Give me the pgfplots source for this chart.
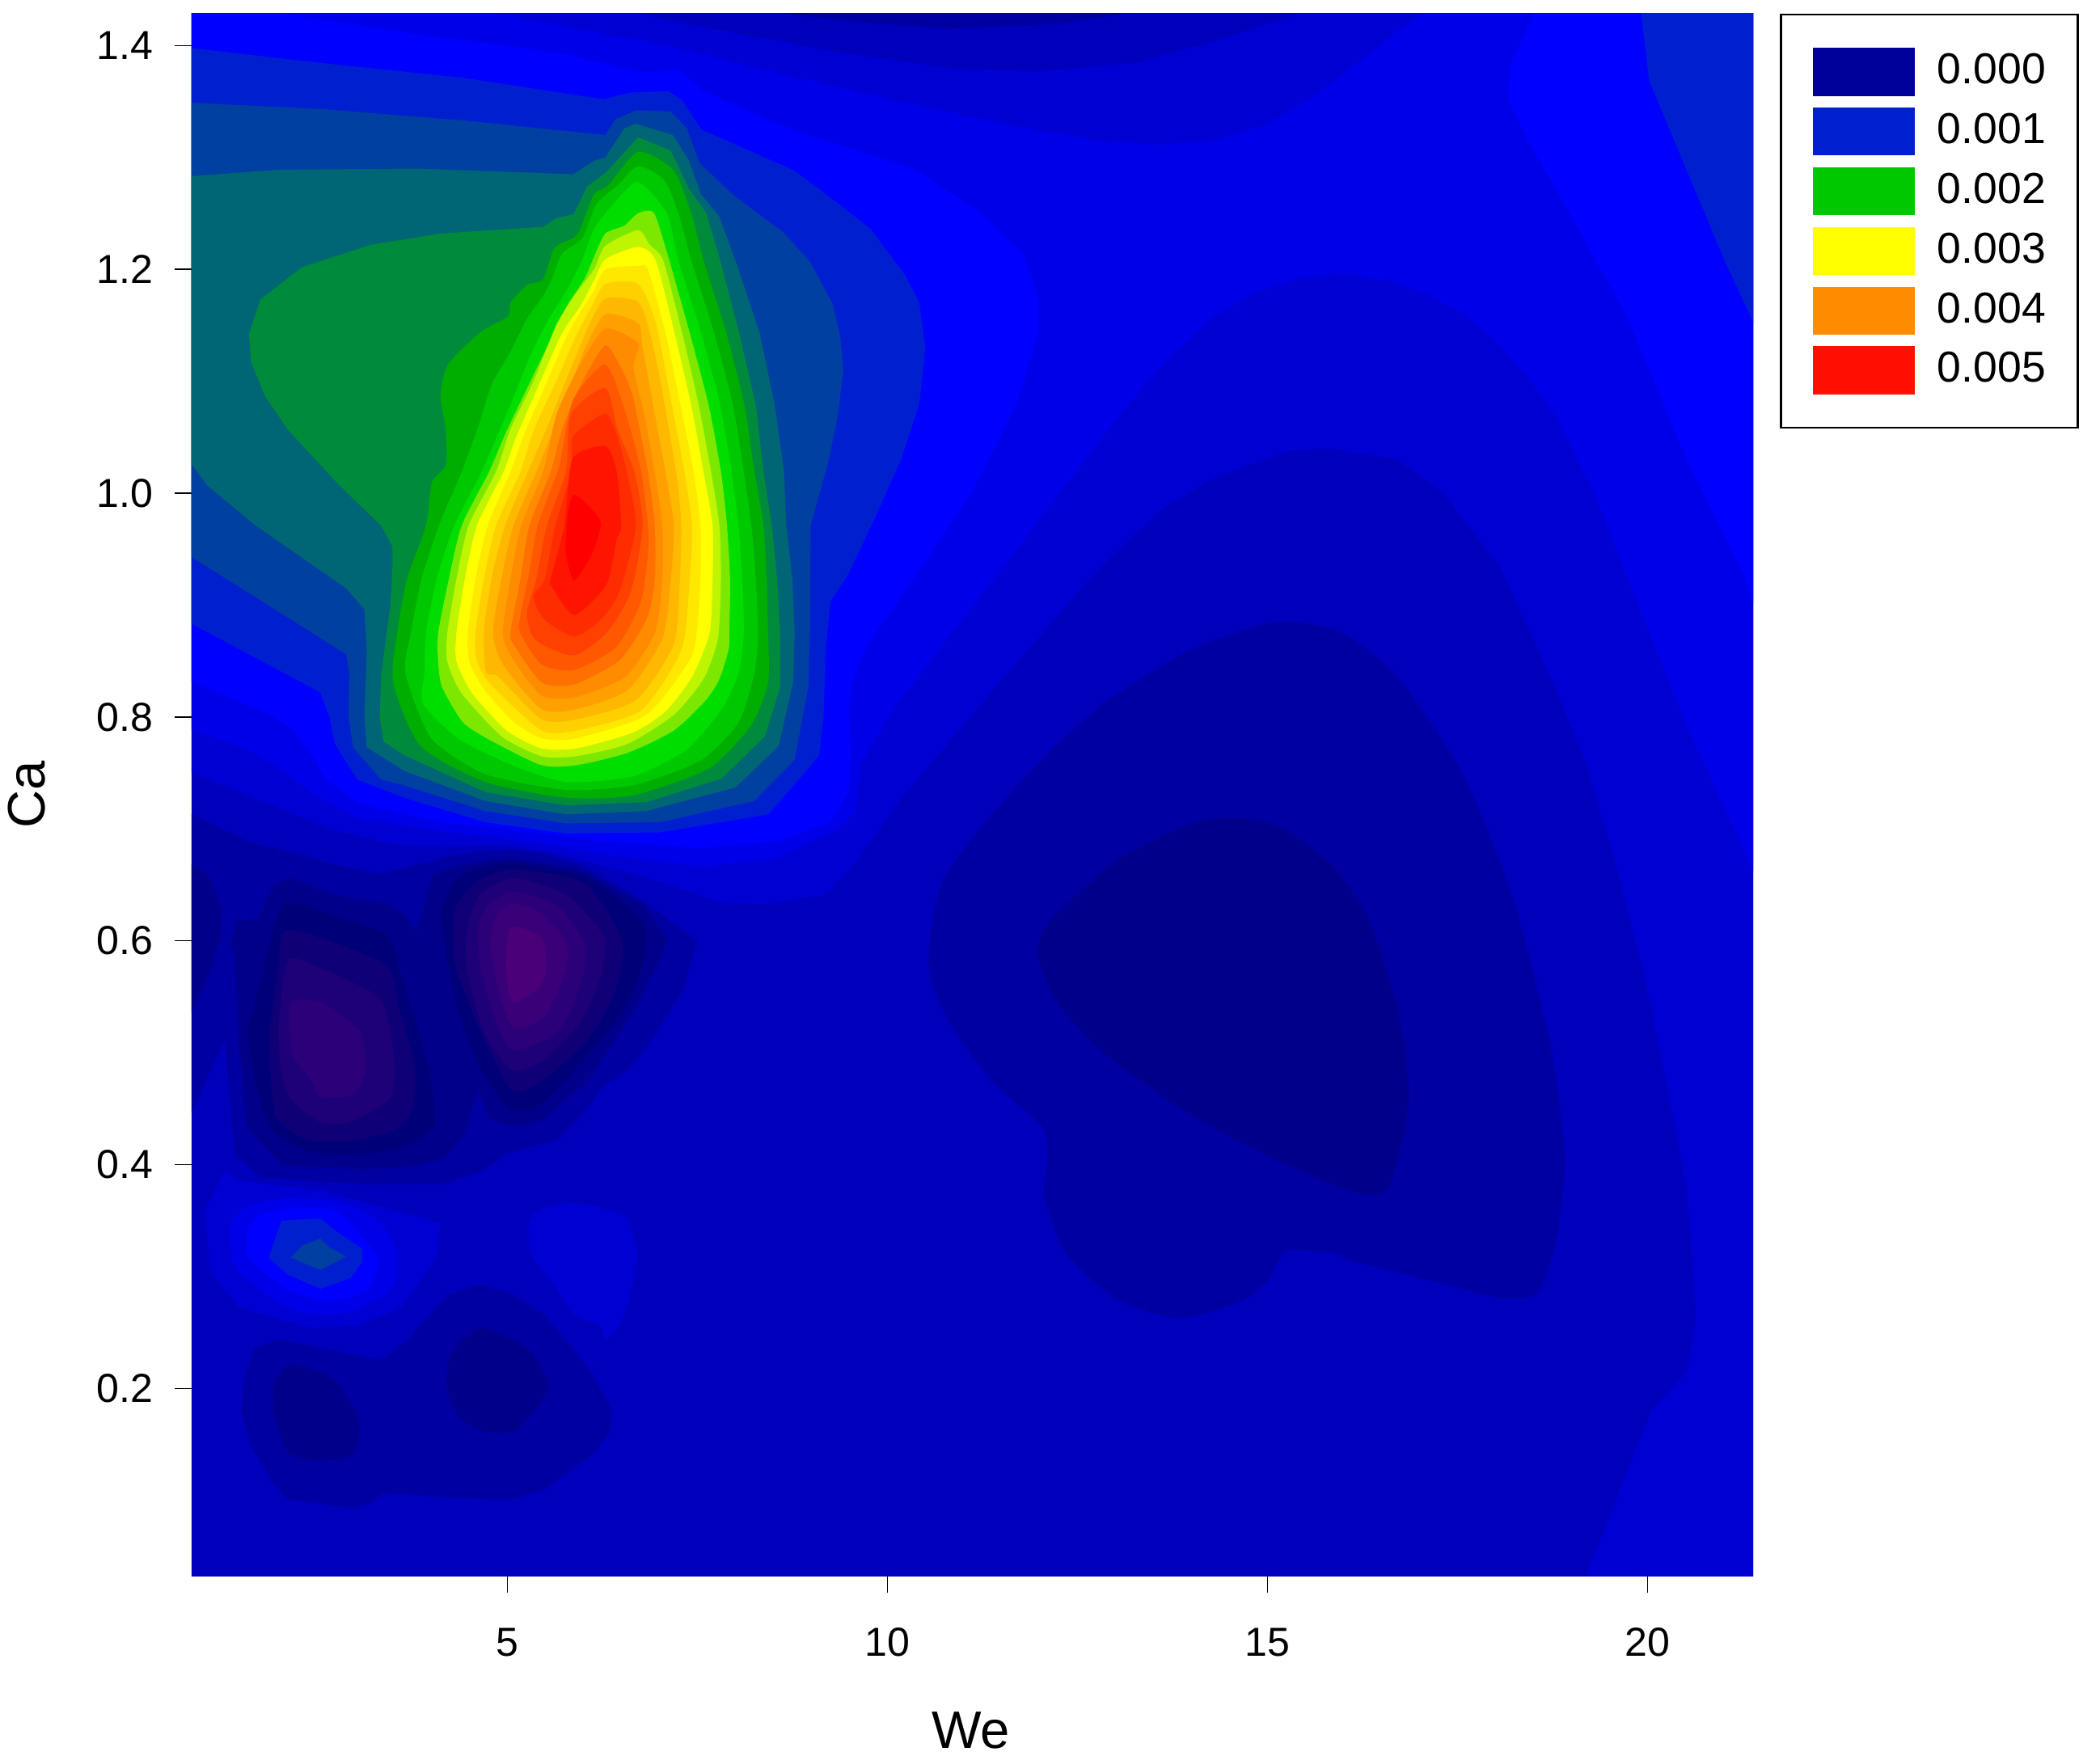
\documentclass[border=0pt]{standalone}
\usepackage{fontspec}
\setmainfont{Liberation Sans}
\usepackage{pgfplots}
\pgfplotsset{compat=1.18}
% band colours, low to high
\definecolor{c00}{HTML}{00008A}\definecolor{p0}{HTML}{000078}\definecolor{p1}{HTML}{100078}
\definecolor{p2}{HTML}{1E0078}\definecolor{p3}{HTML}{2C0078}\definecolor{p4}{HTML}{3A0078}\definecolor{p5}{HTML}{4A0078}
\definecolor{c01}{HTML}{0000A2}\definecolor{c02}{HTML}{0000BC}\definecolor{c03}{HTML}{0000D2}
\definecolor{c04}{HTML}{0000E8}\definecolor{c05}{HTML}{0000FF}
\definecolor{l09}{HTML}{0020D0}\definecolor{l10}{HTML}{0040A0}\definecolor{l11}{HTML}{006575}
\definecolor{l12}{HTML}{008B3C}\definecolor{l13}{HTML}{00AE00}\definecolor{l14}{HTML}{00C800}
\definecolor{l15}{HTML}{00DE00}\definecolor{l16}{HTML}{7CE800}\definecolor{l17}{HTML}{BFF500}
\definecolor{l18}{HTML}{FFFF00}\definecolor{l19}{HTML}{FFE800}\definecolor{l20}{HTML}{FFD000}
\definecolor{l21}{HTML}{FFB800}\definecolor{l22}{HTML}{FFA000}\definecolor{l23}{HTML}{FF8C00}
\definecolor{l24}{HTML}{FF7000}\definecolor{l25}{HTML}{FF5800}\definecolor{l26}{HTML}{FF4000}
\definecolor{l27}{HTML}{FF2C00}\definecolor{l28}{HTML}{FF1400}\definecolor{l29}{HTML}{FF0000}
\definecolor{leg0}{HTML}{00009B}\definecolor{leg2}{HTML}{00C800}\definecolor{leg4}{HTML}{FF8C00}\definecolor{leg5}{HTML}{FF1000}
% \band: open at the plot edge, straight segments; \blob: closed and rounded
\newcommand{\band}[2]{\addplot[fill=#1,draw=none,forget plot] coordinates {#2} -- cycle;}
\newcommand{\blob}[2]{\addplot[fill=#1,draw=none,forget plot,smooth cycle,tension=0.4] coordinates {#2};}
\newcommand{\swatch}[1]{\addlegendimage{legend image code/.code={\fill[#1] (0mm,-1.9mm) rectangle (7.4mm,1.5mm);}}}
\begin{document}
\begin{tikzpicture}
\path[use as bounding box] (0,0) rectangle (156.8mm,131.1mm);
\begin{axis}[
  at={(14.3mm,13.4mm)},anchor=south west,
  scale only axis,width=116.6mm,height=116.7mm,
  xmin=0.845,xmax=21.39,ymin=0.0325,ymax=1.4287,
  axis x line*=bottom,axis y line*=left,axis line style={draw=none},
  xtick={5,10,15,20},ytick={0.2,0.4,0.6,0.8,1.0,1.2,1.4},
  tick align=outside,major tick length=1.25mm,tick style={black,line width=0.25pt},
  tick label style={font=\fontsize{8.6}{10}\selectfont},
  /pgf/number format/assume math mode=true,
  y tick label style={/pgf/number format/fixed,/pgf/number format/fixed zerofill,/pgf/number format/precision=1},
  xticklabel style={yshift=-1.4mm},yticklabel style={xshift=-0.4mm},
  xlabel={We},ylabel={Ca},
  every axis x label/.style={at={(axis description cs:0.499,-0.0986)},anchor=center,font=\fontsize{11.2}{13}\selectfont},
  every axis y label/.style={at={(axis description cs:-0.1054,0.5)},anchor=center,rotate=90,font=\fontsize{11.2}{13}\selectfont},
  legend style={at={(axis description cs:1.0171,1)},anchor=north west,draw=black,line width=0.5pt,
    font=\fontsize{9.2}{10.5}\selectfont,inner xsep=2.4mm,inner ysep=2.5mm,row sep=0.88mm,
    nodes={inner sep=0pt,text height=2.3mm,text depth=0.1mm},
    /tikz/every odd column/.append style={column sep=1.7mm}},
  legend cell align=left,
]
\swatch{leg0}\addlegendentry{0.000\hspace{0.9mm}}
\swatch{l09}\addlegendentry{0.001\hspace{0.9mm}}
\swatch{leg2}\addlegendentry{0.002\hspace{0.9mm}}
\swatch{l18}\addlegendentry{0.003\hspace{0.9mm}}
\swatch{leg4}\addlegendentry{0.004\hspace{0.9mm}}
\swatch{leg5}\addlegendentry{0.005\hspace{0.9mm}}

% background level
\band{c02}{(0.8,0.02)(21.5,0.02)(21.5,1.44)(0.8,1.44)}
% everything above the lower plateau
\band{c03}{(0.8,0.751)(2.13,0.715)(2.67,0.70)(3.49,0.686)(4.16,0.684)(4.84,0.686)(5.52,0.68)(6.2,0.668)(6.87,0.656)(7.82,0.634)(8.43,0.633)(9.18,0.641)(9.59,0.67)(10.13,0.723)(11.15,0.805)(12.0,0.872)(12.82,0.935)(13.6,0.985)(14.3,1.014)(15.3,1.038)(15.8,1.04)(16.7,1.03)(17.3,1.001)(18.05,0.935)(18.7,0.84)(19.19,0.759)(19.6,0.665)(19.95,0.572)(20.25,0.475)(20.52,0.379)(20.64,0.262)(20.52,0.215)(20.05,0.18)(19.19,0.032)(19.1,0.02)(21.5,0.02)(21.5,1.44)(0.8,1.44)}
\band{c04}{(0.8,0.79)(1.65,0.769)(2.13,0.748)(2.40,0.733)(3.01,0.71)(4.16,0.698)(5.11,0.69)(6.2,0.678)(7.55,0.666)(8.57,0.674)(9.38,0.701)(9.59,0.716)(9.65,0.757)(10.06,0.805)(11.44,0.927)(12.1,0.985)(12.79,1.046)(13.3,1.09)(13.8,1.127)(14.3,1.158)(14.8,1.178)(15.4,1.192)(16.0,1.196)(16.6,1.19)(17.1,1.178)(17.6,1.159)(18.0,1.136)(18.4,1.105)(18.8,1.069)(19.3,1.0)(19.72,0.927)(20.5,0.795)(21.41,0.66)(21.5,0.64)(21.5,1.44)(0.8,1.44)}
\band{c05}{(0.8,0.833)(1.79,0.805)(2.16,0.79)(2.47,0.762)(2.60,0.745)(3.08,0.722)(4.16,0.706)(5.11,0.699)(6.2,0.689)(7.55,0.683)(8.57,0.689)(9.25,0.706)(9.49,0.733)(9.52,0.769)(9.49,0.805)(9.54,0.83)(9.69,0.859)(10.38,0.927)(11.09,0.998)(11.69,1.078)(11.99,1.143)(11.99,1.175)(11.79,1.214)(11.19,1.253)(10.34,1.29)(8.78,1.324)(7.58,1.359)(7.27,1.378)(6.77,1.376)(5.65,1.394)(3.82,1.41)(2.12,1.428)(2.0,1.44)(0.8,1.44)}
% top centre trough
\band{c03}{(4.85,1.44)(4.92,1.428)(5.65,1.419)(7.17,1.399)(8.78,1.372)(10.3,1.348)(11.79,1.327)(12.7,1.316)(13.6,1.311)(14.4,1.317)(15.0,1.33)(15.7,1.359)(16.3,1.391)(17.0,1.428)(17.1,1.44)}
\band{c02}{(6.7,1.44)(6.77,1.428)(7.78,1.414)(9.28,1.395)(10.79,1.38)(11.99,1.377)(13.3,1.385)(14.3,1.404)(15.4,1.428)(15.5,1.44)}
\band{c01}{(8.6,1.44)(8.68,1.428)(9.78,1.42)(10.79,1.415)(12.19,1.419)(13.09,1.428)(13.2,1.44)}
% top right corner
\band{c05}{(18.5,1.44)(18.51,1.428)(18.21,1.385)(18.16,1.353)(18.41,1.317)(19.01,1.246)(19.72,1.159)(20.52,1.03)(21.27,0.927)(21.5,0.88)(21.5,1.44)}
\band{l09}{(19.9,1.44)(19.92,1.428)(20.02,1.369)(20.52,1.288)(21.02,1.207)(21.37,1.156)(21.5,1.13)(21.5,1.44)}
% main peak
\band{l09}{(0.8,1.398)(2.60,1.384)(4.43,1.371)(6.26,1.352)(6.63,1.358)(7.12,1.359)(7.30,1.351)(7.55,1.325)(8.78,1.288)(9.33,1.26)(9.78,1.236)(10.23,1.195)(10.42,1.17)(10.5,1.13)(10.42,1.08)(10.18,1.03)(9.85,0.98)(9.48,0.927)(9.25,0.903)(9.19,0.862)(9.16,0.80)(9.10,0.766)(8.96,0.754)(8.43,0.713)(7.01,0.697)(5.77,0.696)(4.71,0.706)(3.64,0.728)(3.03,0.744)(2.73,0.776)(2.66,0.80)(2.54,0.822)(0.8,0.885)}
\band{l10}{(0.8,1.349)(2.60,1.343)(4.43,1.333)(6.29,1.32)(6.42,1.334)(6.69,1.342)(7.15,1.341)(7.36,1.326)(7.53,1.295)(7.98,1.266)(8.63,1.233)(8.98,1.207)(9.28,1.169)(9.38,1.14)(9.42,1.11)(9.35,1.07)(9.23,1.03)(8.99,0.971)(8.98,0.875)(8.96,0.827)(8.78,0.762)(8.25,0.725)(7.01,0.706)(5.77,0.705)(4.71,0.716)(3.64,0.739)(3.34,0.744)(2.97,0.773)(2.91,0.80)(2.92,0.838)(2.88,0.856)(0.8,0.945)}
\band{l11}{(0.8,1.283)(1.99,1.289)(3.82,1.29)(5.87,1.285)(6.14,1.297)(6.29,1.30)(6.54,1.326)(6.69,1.33)(7.18,1.32)(7.39,1.297)(7.55,1.267)(7.79,1.247)(8.0,1.208)(8.32,1.143)(8.52,1.078)(8.64,1.019)(8.67,0.971)(8.75,0.923)(8.78,0.875)(8.76,0.831)(8.57,0.774)(8.0,0.737)(6.83,0.716)(5.77,0.713)(4.71,0.725)(3.64,0.752)(3.15,0.773)(3.12,0.80)(3.15,0.858)(3.12,0.896)(2.88,0.915)(1.69,0.971)(1.05,1.007)(0.8,1.03)}
\band{l12}{(1.60,1.142)(1.75,1.173)(2.30,1.202)(3.21,1.222)(4.13,1.232)(5.47,1.238)(5.65,1.246)(5.87,1.249)(6.05,1.274)(6.29,1.286)(6.72,1.318)(7.15,1.306)(7.39,1.272)(7.62,1.25)(7.80,1.208)(8.05,1.143)(8.27,1.078)(8.37,1.019)(8.48,0.971)(8.55,0.923)(8.59,0.875)(8.59,0.827)(8.39,0.783)(7.82,0.745)(6.83,0.724)(5.77,0.721)(4.71,0.733)(3.64,0.766)(3.37,0.778)(3.32,0.80)(3.34,0.838)(3.46,0.899)(3.49,0.935)(3.49,0.952)(3.34,0.971)(2.79,1.007)(2.11,1.057)(1.81,1.087)(1.63,1.117)}
\blob{l13}{(6.72,1.305)(6.33,1.275)(6.14,1.267)(5.96,1.236)(5.87,1.228)(5.62,1.219)(5.47,1.191)(5.26,1.186)(5.04,1.17)(5.01,1.158)(4.65,1.144)(4.22,1.115)(4.12,1.087)(4.19,1.057)(4.19,1.025)(4.01,1.01)(3.93,0.971)(3.68,0.923)(3.55,0.875)(3.50,0.83)(3.86,0.774)(4.71,0.742)(5.77,0.728)(6.65,0.73)(7.65,0.754)(8.21,0.793)(8.43,0.831)(8.43,0.875)(8.41,0.923)(8.37,0.971)(8.25,1.019)(8.12,1.078)(7.88,1.143)(7.58,1.208)(7.42,1.25)(7.18,1.289)}
\blob{l14}{(6.72,1.292)(6.45,1.275)(6.17,1.258)(5.99,1.228)(5.72,1.214)(5.59,1.192)(5.47,1.176)(5.26,1.156)(5.04,1.126)(4.80,1.098)(4.62,1.06)(4.40,1.019)(4.10,0.971)(3.87,0.923)(3.73,0.875)(3.66,0.839)(4.0,0.781)(4.71,0.749)(5.77,0.735)(6.65,0.739)(7.54,0.761)(8.04,0.795)(8.25,0.839)(8.3,0.875)(8.27,0.923)(8.21,0.971)(8.11,1.019)(7.97,1.078)(7.72,1.143)(7.42,1.208)(7.25,1.25)(7.06,1.28)}
\blob{l15}{(6.72,1.278)(6.39,1.258)(6.14,1.236)(5.99,1.209)(5.78,1.181)(5.53,1.154)(5.29,1.121)(5.04,1.079)(4.66,1.019)(4.30,0.971)(4.07,0.923)(3.93,0.875)(3.91,0.839)(3.89,0.812)(4.35,0.781)(5.06,0.757)(5.77,0.742)(6.65,0.747)(7.36,0.771)(7.82,0.807)(8.04,0.839)(8.11,0.875)(8.09,0.923)(8.04,0.971)(7.95,1.019)(7.80,1.078)(7.55,1.143)(7.25,1.208)(7.1,1.25)}
\blob{l16}{(6.72,1.25)(6.54,1.239)(6.29,1.232)(6.14,1.211)(6.02,1.192)(5.78,1.167)(5.59,1.14)(5.29,1.098)(4.98,1.054)(4.76,1.019)(4.40,0.971)(4.23,0.923)(4.09,0.875)(4.09,0.85)(4.14,0.827)(4.42,0.795)(4.81,0.778)(5.45,0.757)(5.91,0.757)(6.58,0.768)(7.19,0.788)(7.61,0.815)(7.79,0.834)(7.91,0.86)(7.92,0.875)(7.93,0.923)(7.89,0.971)(7.81,1.019)(7.65,1.078)(7.40,1.143)(7.13,1.208)(6.93,1.25)}
\blob{l17}{(6.72,1.235)(6.29,1.221)(6.14,1.20)(5.90,1.178)(5.65,1.151)(5.35,1.101)(5.04,1.057)(4.85,1.019)(4.49,0.971)(4.33,0.923)(4.21,0.875)(4.21,0.85)(4.39,0.822)(4.92,0.783)(5.45,0.765)(5.91,0.765)(6.58,0.776)(7.19,0.802)(7.58,0.834)(7.77,0.87)(7.81,0.923)(7.79,0.971)(7.68,1.019)(7.52,1.078)(7.30,1.143)(7.05,1.208)(6.87,1.222)}
\blob{l18}{(6.72,1.22)(6.29,1.209)(6.14,1.19)(5.96,1.167)(5.72,1.143)(5.41,1.096)(5.11,1.049)(4.95,1.019)(4.60,0.971)(4.44,0.923)(4.33,0.875)(4.33,0.85)(4.53,0.822)(4.99,0.788)(5.45,0.772)(5.91,0.772)(6.65,0.786)(7.08,0.805)(7.43,0.836)(7.66,0.875)(7.7,0.923)(7.7,0.971)(7.58,1.019)(7.42,1.078)(7.2,1.143)(6.95,1.208)}
\blob{l19}{(6.72,1.203)(6.29,1.20)(6.14,1.181)(5.96,1.162)(5.78,1.14)(5.53,1.101)(5.23,1.054)(5.04,1.019)(4.74,0.971)(4.58,0.923)(4.48,0.875)(4.50,0.85)(4.67,0.827)(5.06,0.797)(5.45,0.781)(5.91,0.781)(6.83,0.802)(7.40,0.851)(7.49,0.875)(7.54,0.923)(7.54,0.971)(7.45,1.019)(7.28,1.078)(7.08,1.143)(6.85,1.20)}
\blob{l20}{(6.72,1.187)(6.29,1.187)(6.11,1.167)(5.90,1.14)(5.65,1.101)(5.35,1.057)(5.17,1.019)(4.85,0.971)(4.69,0.923)(4.58,0.875)(4.6,0.85)(4.78,0.829)(5.45,0.788)(5.91,0.788)(6.76,0.806)(7.29,0.86)(7.4,0.923)(7.43,0.971)(7.33,1.019)(7.15,1.084)(6.95,1.153)}
\blob{l21}{(6.72,1.171)(6.29,1.174)(6.08,1.151)(5.84,1.112)(5.53,1.06)(5.27,1.019)(4.97,0.971)(4.79,0.923)(4.69,0.875)(4.72,0.84)(4.88,0.836)(5.45,0.798)(5.91,0.798)(6.69,0.815)(7.19,0.865)(7.27,0.923)(7.29,0.971)(7.22,1.019)(7.02,1.098)(6.88,1.142)}
\blob{l22}{(6.72,1.152)(6.29,1.16)(6.02,1.129)(5.72,1.076)(5.38,1.019)(5.08,0.971)(4.92,0.923)(4.81,0.875)(4.95,0.846)(5.45,0.807)(5.91,0.807)(6.58,0.824)(7.04,0.87)(7.15,0.923)(7.19,0.971)(7.08,1.019)(6.94,1.071)(6.78,1.13)}
\blob{l23}{(6.72,1.134)(6.29,1.147)(5.96,1.115)(5.65,1.071)(5.47,1.019)(5.18,0.971)(5.04,0.923)(4.94,0.875)(5.06,0.853)(5.45,0.819)(5.91,0.818)(6.55,0.836)(6.94,0.875)(7.04,0.923)(7.04,0.971)(6.94,1.019)(6.80,1.071)(6.66,1.112)}
\blob{l24}{(6.29,1.132)(5.96,1.096)(5.72,1.057)(5.57,1.019)(5.29,0.971)(5.17,0.923)(5.04,0.875)(5.10,0.863)(5.45,0.831)(5.88,0.829)(6.48,0.851)(6.83,0.887)(6.94,0.923)(6.94,0.971)(6.85,1.019)(6.66,1.084)(6.54,1.106)}
\blob{l25}{(6.29,1.115)(5.87,1.084)(5.70,1.03)(5.66,1.019)(5.40,0.971)(5.27,0.923)(5.17,0.89)(5.17,0.875)(5.45,0.847)(5.88,0.842)(6.44,0.863)(6.76,0.904)(6.85,0.947)(6.85,0.971)(6.76,1.019)(6.55,1.073)}
\blob{l26}{(6.29,1.094)(5.84,1.071)(5.77,1.019)(5.52,0.971)(5.38,0.923)(5.26,0.894)(5.31,0.875)(5.45,0.865)(5.88,0.855)(6.3,0.875)(6.62,0.911)(6.78,0.971)(6.67,1.019)(6.45,1.057)}
\blob{l27}{(6.29,1.071)(5.87,1.051)(5.84,1.019)(5.63,0.971)(5.49,0.923)(5.34,0.908)(5.49,0.887)(5.88,0.872)(6.23,0.887)(6.48,0.913)(6.69,0.971)(6.57,1.019)(6.45,1.05)}
\blob{l28}{(6.29,1.042)(5.86,1.031)(5.75,0.971)(5.57,0.923)(5.59,0.916)(5.88,0.891)(6.30,0.918)(6.44,0.959)(6.5,0.971)(6.44,1.019)}
\blob{l29}{(5.88,0.999)(6.12,0.985)(6.23,0.972)(6.12,0.947)(5.88,0.922)(5.77,0.947)(5.8,0.983)}
% troughs on the lower left
\band{c01}{(0.8,0.715)(1.65,0.687)(2.13,0.68)(2.73,0.668)(3.3,0.66)(3.82,0.668)(4.31,0.677)(4.84,0.681)(5.25,0.681)(5.98,0.668)(6.79,0.636)(7.5,0.60)(7.31,0.555)(6.87,0.509)(6.59,0.485)(6.26,0.47)(5.98,0.444)(5.65,0.422)(5.0,0.41)(4.68,0.395)(4.19,0.383)(3.3,0.382)(2.52,0.385)(1.75,0.389)(1.42,0.408)(1.34,0.465)(1.28,0.511)(0.8,0.44)}
\band{c00}{(0.8,0.67)(1.06,0.66)(1.24,0.629)(1.22,0.603)(1.10,0.574)(0.85,0.538)(0.8,0.53)}
\band{c00}{(1.36,0.60)(1.44,0.612)(1.42,0.62)(1.71,0.618)(1.91,0.648)(2.12,0.657)(2.73,0.641)(3.42,0.633)(3.68,0.622)(3.80,0.607)(3.91,0.634)(4.01,0.659)(4.43,0.668)(5.04,0.675)(5.98,0.663)(6.79,0.632)(7.12,0.60)(6.67,0.538)(6.06,0.475)(5.45,0.439)(5.08,0.434)(4.76,0.44)(4.62,0.469)(4.45,0.429)(4.17,0.405)(3.62,0.397)(2.97,0.396)(2.03,0.40)(1.75,0.42)(1.57,0.434)(1.46,0.514)(1.42,0.586)}
\blob{p0}{(2.12,0.634)(2.73,0.622)(3.42,0.605)(3.62,0.566)(3.80,0.526)(3.99,0.477)(4.03,0.436)(3.70,0.418)(3.05,0.409)(2.40,0.412)(1.95,0.429)(1.77,0.453)(1.59,0.514)(1.75,0.562)(1.95,0.615)}
\blob{p1}{(2.12,0.61)(3.38,0.579)(3.58,0.538)(3.78,0.489)(3.76,0.453)(3.54,0.432)(2.89,0.421)(2.36,0.423)(1.95,0.444)(1.87,0.514)(1.99,0.574)}
\blob{p2}{(2.12,0.583)(2.52,0.576)(2.93,0.564)(3.36,0.545)(3.52,0.489)(3.44,0.458)(2.93,0.438)(2.54,0.438)(2.16,0.458)(2.03,0.482)(1.99,0.526)}
\blob{p3}{(2.16,0.545)(2.56,0.545)(3.01,0.523)(3.09,0.514)(3.15,0.489)(3.09,0.475)(2.95,0.462)(2.54,0.461)(2.40,0.477)(2.18,0.497)(2.14,0.514)}
\blob{p0}{(5.08,0.669)(6.06,0.656)(6.79,0.615)(6.75,0.571)(6.47,0.533)(5.98,0.492)(5.41,0.453)(5.04,0.451)(4.68,0.482)(4.41,0.523)(4.27,0.562)(4.13,0.627)(4.43,0.66)}
\blob{p1}{(5.08,0.664)(6.02,0.651)(6.51,0.60)(6.39,0.55)(6.02,0.509)(5.45,0.475)(5.04,0.468)(4.56,0.533)(4.31,0.581)(4.31,0.627)(4.60,0.653)}
\blob{p2}{(5.08,0.656)(5.78,0.641)(6.27,0.603)(6.22,0.566)(5.94,0.525)(5.45,0.492)(5.04,0.485)(4.68,0.521)(4.47,0.574)(4.47,0.61)(4.64,0.641)}
\blob{p3}{(5.08,0.644)(5.65,0.632)(6.0,0.60)(6.0,0.569)(5.74,0.525)(5.45,0.51)(5.04,0.503)(4.80,0.538)(4.64,0.579)(4.62,0.612)(4.74,0.632)}
\blob{p4}{(5.04,0.633)(5.41,0.626)(5.76,0.601)(5.78,0.576)(5.61,0.547)(5.45,0.53)(5.08,0.522)(4.88,0.557)(4.78,0.60)(4.84,0.62)}
\blob{p5}{(5.04,0.612)(5.45,0.603)(5.51,0.576)(5.43,0.559)(5.08,0.545)(4.98,0.574)}
% small rise near We=2.5, Ca=0.32
\band{c03}{(1.28,0.395)(1.42,0.387)(1.75,0.383)(2.5,0.378)(3.25,0.364)(4.12,0.348)(4.06,0.316)(3.61,0.273)(3.04,0.256)(2.47,0.254)(1.78,0.266)(1.46,0.273)(1.09,0.304)(1.02,0.359)}
\blob{c04}{(1.36,0.348)(1.62,0.364)(2.11,0.37)(2.80,0.367)(3.33,0.348)(3.53,0.323)(3.49,0.289)(2.92,0.268)(2.31,0.268)(1.99,0.277)(1.50,0.302)(1.38,0.317)}
\blob{c05}{(1.62,0.348)(1.99,0.36)(2.68,0.36)(3.04,0.34)(3.29,0.316)(3.21,0.292)(2.92,0.281)(2.56,0.279)(2.07,0.29)(1.6,0.317)}
\band{l09}{(2.03,0.35)(2.54,0.352)(2.80,0.338)(3.09,0.325)(3.09,0.313)(2.94,0.299)(2.54,0.289)(2.11,0.302)(1.86,0.317)}
\band{l10}{(2.54,0.334)(2.66,0.326)(2.88,0.318)(2.54,0.306)(2.15,0.317)(2.31,0.328)}
\blob{c03}{(5.28,0.348)(5.44,0.36)(5.89,0.366)(6.54,0.355)(6.64,0.34)(6.71,0.316)(6.58,0.275)(6.46,0.254)(6.30,0.244)(6.22,0.256)(5.85,0.268)(5.61,0.294)(5.32,0.319)}
% lowest left troughs
\band{c01}{(1.66,0.236)(2.03,0.244)(2.96,0.23)(3.37,0.226)(3.70,0.244)(4.22,0.284)(4.63,0.293)(5.04,0.285)(5.49,0.266)(6.1,0.215)(6.38,0.181)(6.34,0.16)(6.1,0.14)(5.49,0.11)(5.08,0.101)(4.35,0.102)(3.37,0.107)(3.21,0.098)(2.96,0.093)(2.11,0.101)(1.91,0.116)(1.62,0.15)(1.5,0.179)(1.54,0.208)}
\blob{c00}{(2.13,0.221)(2.52,0.215)(2.76,0.205)(3.04,0.174)(3.02,0.148)(2.92,0.139)(2.56,0.136)(2.11,0.143)(1.93,0.179)(1.93,0.205)}
\blob{c00}{(4.63,0.254)(5.04,0.245)(5.30,0.233)(5.55,0.203)(5.34,0.179)(5.06,0.161)(4.63,0.163)(4.33,0.178)(4.2,0.203)(4.27,0.233)}
% broad trough on the right
\blob{c01}{(15.1,0.885)(15.96,0.876)(16.72,0.835)(17.58,0.748)(18.24,0.636)(18.72,0.508)(18.91,0.408)(18.81,0.338)(18.57,0.286)(18.05,0.281)(17.29,0.294)(16.06,0.315)(15.96,0.32)(15.25,0.323)(15.01,0.297)(14.63,0.277)(13.82,0.263)(13.01,0.28)(12.35,0.321)(12.06,0.373)(12.11,0.408)(12.02,0.435)(11.4,0.473)(10.83,0.525)(10.54,0.578)(10.73,0.654)(11.59,0.73)(12.73,0.806)(13.96,0.859)}
\blob{c00}{(11.97,0.59)(12.16,0.619)(13.01,0.671)(13.97,0.704)(14.54,0.71)(15.2,0.701)(15.87,0.666)(16.34,0.619)(16.72,0.537)(16.86,0.467)(16.77,0.42)(16.58,0.379)(16.34,0.373)(15.87,0.382)(14.92,0.411)(13.96,0.446)(12.92,0.496)(12.25,0.543)}
\end{axis}
\end{tikzpicture}
\end{document}
